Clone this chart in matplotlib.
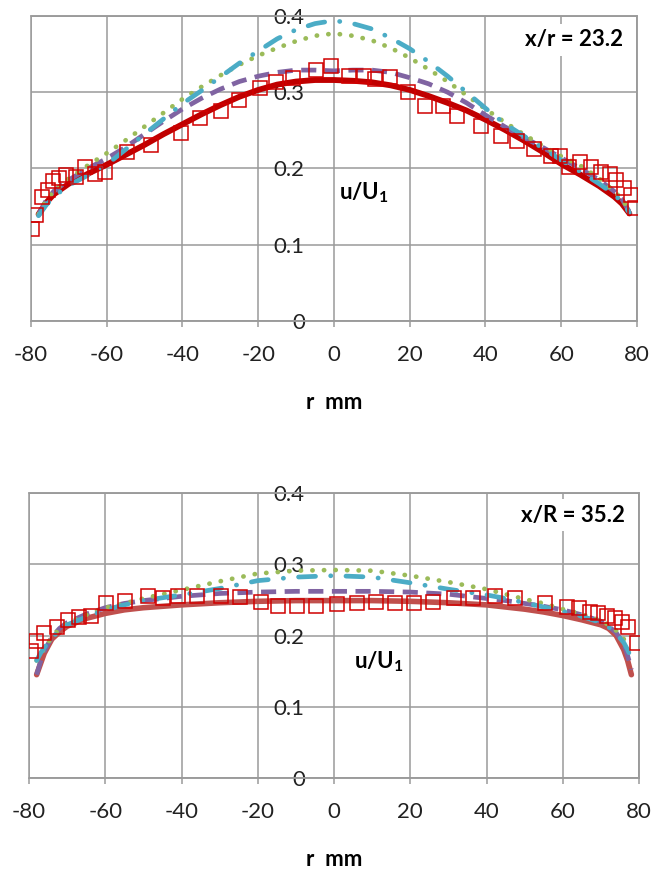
import numpy as np
import matplotlib
matplotlib.use('Agg')
import matplotlib.pyplot as plt
from matplotlib.patches import Rectangle

plt.rcParams['font.family'] = ['Lato', 'DejaVu Sans']
plt.rcParams['mathtext.fontset'] = 'custom'
plt.rcParams['mathtext.rm'] = 'Lato'
plt.rcParams['mathtext.bf'] = 'Lato:bold'

# ---- datos panel superior (x/r = 23.2) ----
r_top = [-78, -76, -74, -70, -65, -60, -55, -50, -45, -40, -35, -30, -25, -20, -15, -10, -5, 0,
         5, 10, 15, 20, 25, 30, 35, 40, 45, 50, 55, 60, 65, 70, 74, 76, 78]
red_top = [0.140, 0.155, 0.166, 0.180, 0.193, 0.205, 0.218, 0.231, 0.245, 0.258, 0.271, 0.283, 0.294,
           0.303, 0.310, 0.314, 0.316, 0.316, 0.315, 0.313, 0.309, 0.303, 0.295, 0.286, 0.276, 0.264,
           0.251, 0.237, 0.222, 0.206, 0.192, 0.177, 0.163, 0.154, 0.141]
purple_top = [0.140, 0.158, 0.170, 0.185, 0.200, 0.213, 0.228, 0.245, 0.262, 0.278, 0.292, 0.304, 0.314,
              0.321, 0.326, 0.329, 0.329, 0.328, 0.329, 0.329, 0.326, 0.319, 0.311, 0.300, 0.286, 0.270,
              0.255, 0.241, 0.228, 0.214, 0.200, 0.185, 0.170, 0.160, 0.143]
green_top = [0.140, 0.158, 0.170, 0.187, 0.204, 0.220, 0.237, 0.255, 0.273, 0.291, 0.307, 0.322, 0.336,
             0.348, 0.358, 0.367, 0.374, 0.377, 0.374, 0.368, 0.358, 0.345, 0.330, 0.314, 0.296, 0.278,
             0.261, 0.245, 0.230, 0.216, 0.204, 0.187, 0.170, 0.160, 0.145]
cyan_top = [0.138, 0.152, 0.163, 0.178, 0.191, 0.205, 0.225, 0.245, 0.265, 0.285, 0.302, 0.320, 0.338,
            0.354, 0.370, 0.382, 0.390, 0.394, 0.390, 0.383, 0.371, 0.357, 0.340, 0.321, 0.300, 0.279,
            0.259, 0.243, 0.227, 0.211, 0.196, 0.180, 0.166, 0.156, 0.142]
sq_r_top = [-79.8, -78.7, -77, -75.6, -74.2, -72.5, -70.8, -68, -65.8, -63, -60.4, -54.6, -48.4, -40.5,
            -35.5, -29.9, -25, -19.6, -15.3, -10.8, -4.7, -0.7, 3.9, 7.8, 10.8, 14.8, 19.6, 24, 28.9,
            32.4, 38.9, 44.2, 48.2, 52.9, 57.4, 59.8, 62, 65, 67.8, 70.5, 72.8, 74.4, 76.6, 78.3, 79.4]
sq_v_top = [0.121, 0.139, 0.163, 0.172, 0.183, 0.187, 0.191, 0.189, 0.202, 0.193, 0.196, 0.222, 0.231,
            0.246, 0.266, 0.276, 0.290, 0.306, 0.314, 0.318, 0.329, 0.335, 0.321, 0.321, 0.317, 0.320,
            0.300, 0.282, 0.282, 0.269, 0.256, 0.243, 0.236, 0.225, 0.217, 0.217, 0.202, 0.209, 0.202,
            0.196, 0.193, 0.185, 0.174, 0.165, 0.148]

# ---- datos panel inferior (x/R = 35.2) ----
r_bot = [-78, -77, -76, -74, -72, -70, -65, -60, -55, -50, -45, -40, -30, -20, -10, 0,
         10, 20, 30, 40, 45, 50, 55, 60, 65, 70, 72, 74, 76, 77, 78]
red_bot = [0.145, 0.160, 0.175, 0.195, 0.205, 0.213, 0.224, 0.231, 0.236, 0.239, 0.241, 0.243, 0.246,
           0.248, 0.249, 0.249, 0.249, 0.248, 0.246, 0.243, 0.240, 0.237, 0.233, 0.228, 0.222, 0.215,
           0.210, 0.200, 0.180, 0.165, 0.145]
purple_bot = [0.145, 0.163, 0.178, 0.198, 0.210, 0.218, 0.230, 0.239, 0.245, 0.249, 0.252, 0.255, 0.259,
              0.261, 0.262, 0.262, 0.262, 0.261, 0.258, 0.252, 0.249, 0.245, 0.241, 0.236, 0.229, 0.220,
              0.213, 0.204, 0.188, 0.172, 0.152]
green_bot = [0.165, 0.172, 0.182, 0.198, 0.209, 0.217, 0.229, 0.239, 0.245, 0.252, 0.258, 0.264, 0.276,
             0.287, 0.291, 0.292, 0.291, 0.284, 0.275, 0.265, 0.258, 0.251, 0.245, 0.237, 0.230, 0.221,
             0.215, 0.207, 0.195, 0.182, 0.165]
cyan_bot = [0.165, 0.175, 0.183, 0.197, 0.207, 0.215, 0.226, 0.236, 0.243, 0.249, 0.253, 0.257, 0.266,
            0.277, 0.282, 0.284, 0.282, 0.274, 0.265, 0.257, 0.252, 0.246, 0.240, 0.234, 0.227, 0.218,
            0.212, 0.203, 0.190, 0.180, 0.168]
sq_r_bot = [-79.5, -78.2, -76, -72.6, -69.8, -67, -63.7, -59.8, -54.8, -48.7, -44.8, -40.9, -35.9, -29.7,
            -24.7, -19.2, -14.7, -9.7, -4.7, 0.9, 5.9, 10.9, 15.9, 20.9, 25.9, 31.5, 36.5, 42.1, 47.6,
            55.4, 61, 64.3, 67.1, 69.3, 71.6, 73.8, 75.5, 77.1, 79.4]
sq_v_bot = [0.178, 0.192, 0.203, 0.212, 0.222, 0.226, 0.228, 0.245, 0.249, 0.256, 0.253, 0.255, 0.256,
            0.256, 0.254, 0.247, 0.242, 0.242, 0.242, 0.244, 0.245, 0.247, 0.245, 0.245, 0.247, 0.252,
            0.253, 0.256, 0.252, 0.245, 0.240, 0.238, 0.233, 0.231, 0.228, 0.224, 0.219, 0.212, 0.189]

x_ticks = [-80, -60, -40, -20, 0, 20, 40, 60, 80]
x_labels = ['-80', '-60', '-40', '-20', '0', '20', '40', '60', '80']
y_ticks = [0, 0.1, 0.2, 0.3, 0.4]
y_labels = ['0', '0.1', '0.2', '0.3', '0.4']

grid_c = '#9a9a9a'
fs = 16

fig = plt.figure(figsize=(6.62, 8.72), dpi=100)
ax1 = fig.add_axes([0.0468, 0.6319, 0.9154, 0.3498])
ax2 = fig.add_axes([0.0438, 0.1078, 0.9215, 0.3268])


def dibujar(ax, r, red, purple, green, cyan, sq_r, sq_v, red_color, red_lw, etiqueta, ylab_pos):
    # eje vertical en r = 0 (estilo Excel); antes de fijar los ticks
    ax.spines['left'].set_position(('data', 0))
    ax.spines['left'].set_visible(False)

    ax.plot(r, red, color=red_color, lw=red_lw, solid_capstyle='round', zorder=3)
    ax.plot(r, purple, color='#8064A2', lw=3.4, linestyle=(0, (3.2, 1.8)), zorder=4)
    ax.plot(r, green, color='#9BBB59', lw=3.4, linestyle=(0, (0.05, 2.4)),
            dash_capstyle='round', zorder=4)
    ax.plot(r, cyan, color='#4BACC6', lw=3.4, linestyle=(0, (3.6, 3.2, 0.05, 3.2)),
            dash_capstyle='round', zorder=4)
    ax.plot(sq_r, sq_v, linestyle='none', marker='s', ms=10, mfc='none',
            mec='#D00000', mew=1.1, zorder=5)

    ax.set_xlim(-80, 80)
    ax.set_ylim(0, 0.4)
    ax.set_xticks(x_ticks)
    ax.set_xticklabels(x_labels)
    ax.set_yticks(y_ticks)
    ax.set_yticklabels(y_labels)
    ax.grid(True, color=grid_c, lw=1.1)
    ax.set_axisbelow(True)

    for s in ['top', 'right', 'bottom']:
        ax.spines[s].set_color(grid_c)
        ax.spines[s].set_linewidth(1.1)
    ax.add_patch(Rectangle((0, 0), 1, 1, transform=ax.transAxes, fill=False,
                           ec=grid_c, lw=1.1, clip_on=False, zorder=1))
    ax.tick_params(axis='y', length=0, pad=21, labelsize=fs, labelcolor='#222222')
    ax.tick_params(axis='x', direction='out', length=4.5, width=1.1, color=grid_c,
                   pad=13, labelsize=fs, labelcolor='#222222')

    ax.set_xlabel('r  mm', fontsize=fs, fontweight='bold', labelpad=19)
    ax.text(ylab_pos[0], ylab_pos[1], r'$\mathbf{u/U_1}$', fontsize=fs,
            ha='left', va='center', zorder=6)
    ax.text(0.977, 0.922, etiqueta, transform=ax.transAxes, ha='right', va='center',
            fontsize=fs, fontweight='bold', zorder=6,
            bbox=dict(fc='white', ec='none', pad=4))


dibujar(ax1, r_top, red_top, purple_top, green_top, cyan_top, sq_r_top, sq_v_top,
        '#C00000', 4.2, 'x/r = 23.2', (1.3, 0.168))
dibujar(ax2, r_bot, red_bot, purple_bot, green_bot, cyan_bot, sq_r_bot, sq_v_bot,
        '#C0504D', 4.0, 'x/R = 35.2', (5.2, 0.163))

fig.savefig('out.png', dpi=100)
